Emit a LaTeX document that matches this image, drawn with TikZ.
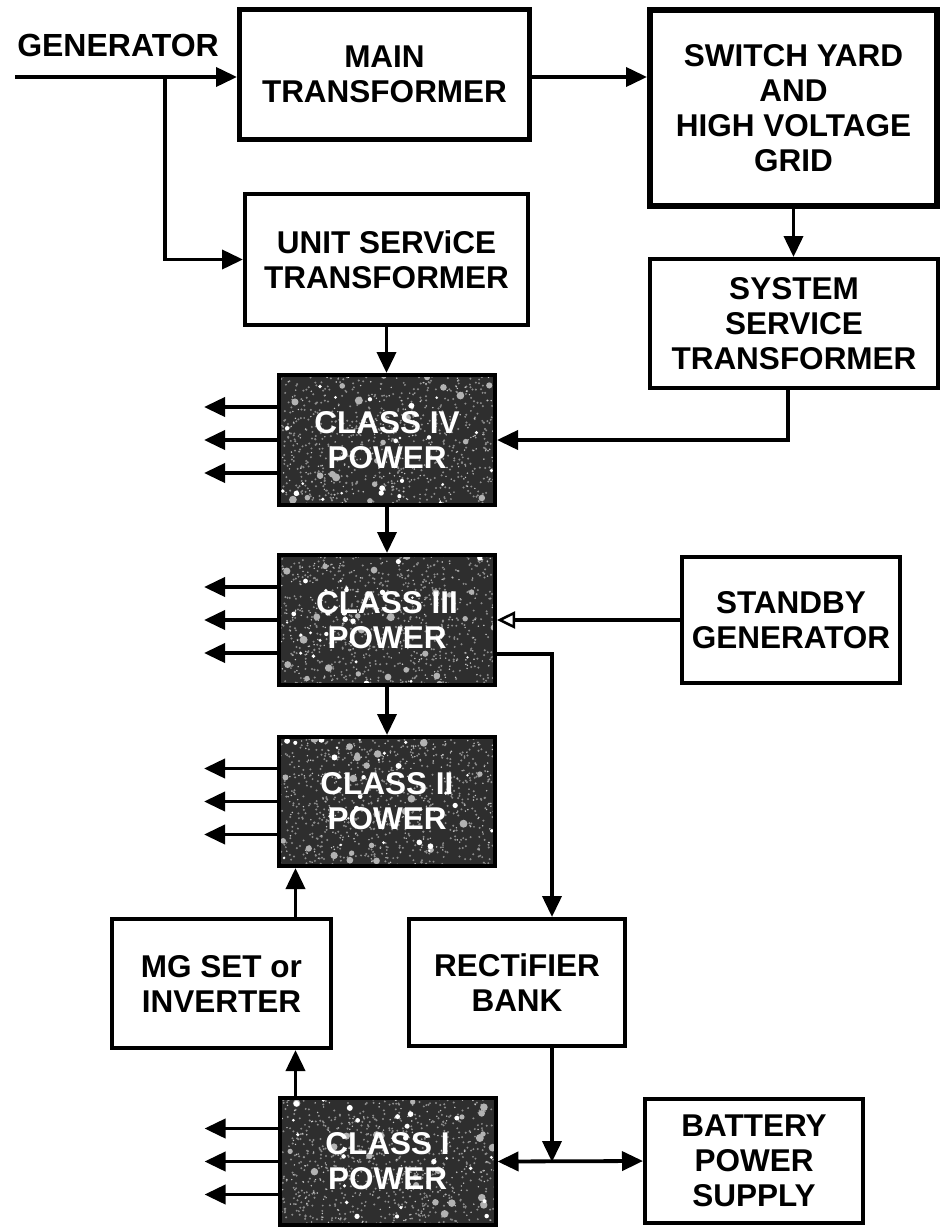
\documentclass[tikz,border=0pt]{standalone}
\usepackage{fontspec}
\setmainfont{Liberation Sans}
\usetikzlibrary{arrows.meta,calc}
\newcommand\myspeckles{%
  \path (path picture bounding box.north west) coordinate (pnw);
  \foreach \k in {1,...,700}{\fill[black!45] ($(pnw)+({rnd*224},{rnd*138})$) circle (1.1);}
  \foreach \k in {1,...,260}{\fill[black!22] ($(pnw)+({rnd*224},{rnd*138})$) circle (0.8);}
  \foreach \k in {1,...,26}{\fill[white!70!black] ($(pnw)+({rnd*224},{rnd*138})$) circle ({2.5+1.5*rnd}); }
  \foreach \k in {1,...,30}{\fill[white] ($(pnw)+({rnd*224},{rnd*138})$) circle ({1.2+1.8*rnd});}
}
\tikzset{
  lbl/.style={font=\bfseries\fontsize{31.5}{35}\selectfont, align=center},
  box/.style={lbl, draw, line width=4pt, fill=white, inner sep=0pt},
  darkbox/.style={lbl, draw, line width=4pt, fill=black!82, text=white, inner sep=0pt,
     minimum width=216pt, minimum height=130pt, path picture={\myspeckles}},
  conn/.style={line width=3.8pt, -{Triangle[length=21pt,width=19pt]}},
  openconn/.style={line width=3.8pt, -{Triangle[open,length=18pt,width=17pt,line width=2.5pt,fill=white]}},
  dconn/.style={line width=3.8pt, {Triangle[length=21pt,width=19pt]}-{Triangle[length=21pt,width=19pt]}},
}
\begin{document}
\begin{tikzpicture}[x=1pt,y=-1pt]
\pgfmathsetseed{4242}
\fill[white] (0,0) rectangle (941,1228);
\useasboundingbox (0,0) rectangle (941,1228);

% white boxes
\node[box, line width=5pt, minimum width=290pt, minimum height=130pt] (main) at (384.5,74.5) {MAIN\\TRANSFORMER};
\node[box, line width=6pt, minimum width=287pt, minimum height=196pt] (switch) at (793.5,108) {SWITCH YARD\\AND\\HIGH VOLTAGE\\GRID};
\node[box, minimum width=283pt, minimum height=131pt] (unit) at (386.5,259.5) {UNIT SERViCE\\TRANSFORMER};
\node[box, minimum width=288pt, minimum height=129pt] (system) at (794,323.5) {SYSTEM\\SERVICE\\TRANSFORMER};
\node[box, minimum width=218pt, minimum height=126pt] (standby) at (791,620) {STANDBY\\GENERATOR};
\node[box, minimum width=219pt, minimum height=129pt] (mg) at (221.5,983.5) {MG SET or\\INVERTER};
\node[box, minimum width=216pt, minimum height=127pt] (rect) at (517,982.5) {RECTiFIER\\BANK};
\node[box, minimum width=218pt, minimum height=124pt] (battery) at (754,1161) {BATTERY\\POWER\\SUPPLY};

% dark boxes
\node[darkbox] (c4) at (387,440) {CLASS IV\\POWER};
\node[darkbox] (c3) at (387,620) {CLASS III\\POWER};
\node[darkbox, minimum height=129pt] (c2) at (387,801.5) {CLASS II\\POWER};
\node[darkbox, minimum height=127pt] (c1) at (387.5,1161.5) {CLASS I\\POWER};

% generator input
\node[lbl, font=\bfseries\fontsize{32}{36}\selectfont, inner sep=0pt] (gen) at (118,45) {GENERATOR};
\coordinate (gin) at (15,77);
\coordinate (gbr) at (165,77);
\draw[conn] (gin) -- (gin -| main.west);
\draw[conn] (gbr) |- (unit.west);
\draw[conn] (main.east |- gin) -- (switch.west |- gin);

% vertical chain
\draw[conn] (switch.south) -- (switch.south |- system.north);
\draw[conn] ($(system.south)+(-6,0)$) |- (c4.east);
\draw[conn] (unit.south) -- (unit.south |- c4.north);
\draw[conn] (c4.south) -- (c3.north);
\draw[conn] (c3.south) -- (c2.north);
\draw[openconn] (standby.west) -- (c3.east);

% rectifier path
\draw[conn] ($(c3.east)+(0,34)$) -| ($(rect.north)+(35,0)$);
\coordinate (junc) at (552,1162);
\draw[conn] ($(rect.south)+(35,0)$) -- (junc);
\draw[dconn] (c1.east) -- (battery.west);

% MG set
\coordinate (m1) at ($(c1.north west)+(18,0)$);
\draw[conn] (m1) -- (m1 |- mg.south);
\draw[conn] (m1 |- mg.north) -- (m1 |- c2.south);

% load arrows
\foreach \b in {c4,c3,c2,c1}{
  \foreach \dy in {-33,0,33}{
    \draw[conn] ($(\b.west)+(0,\dy)$) -- ++(-73,0);
  }
}
\end{tikzpicture}
\end{document}
